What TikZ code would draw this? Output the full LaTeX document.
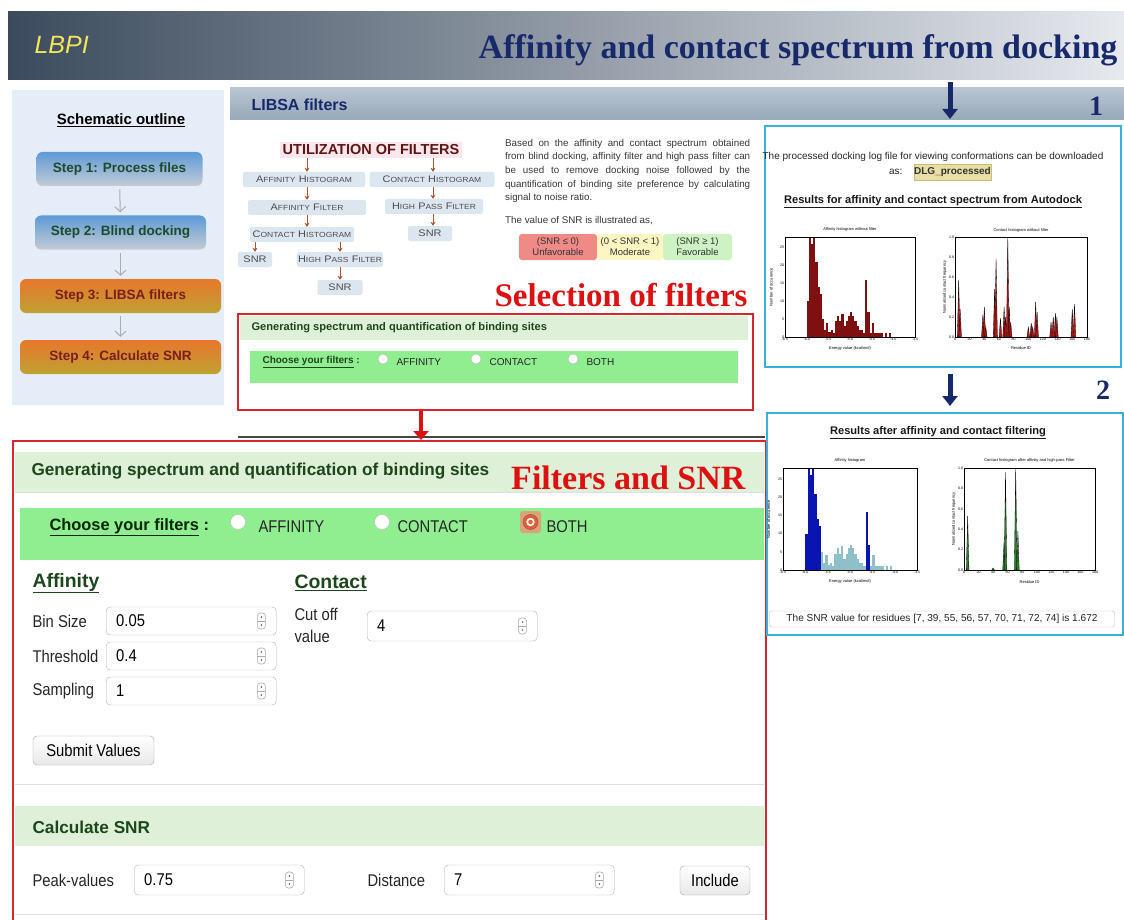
\documentclass[tikz,border=0pt]{standalone}
\usepackage{fontspec}
\setmainfont{Liberation Serif}
\setsansfont{Liberation Sans}
\newfontfamily\narrowsf[FakeStretch=0.87]{Liberation Sans}
\newfontfamily\widesf[FakeStretch=1.15]{Liberation Sans}
\usetikzlibrary{arrows.meta,positioning}

\definecolor{bannerDark}{HTML}{3B4B5D}
\definecolor{bannerLight}{HTML}{E6E9EE}
\definecolor{titleNavy}{HTML}{17296B}
\definecolor{logoYellow}{HTML}{F3E45A}
\definecolor{sideBg}{HTML}{E5EDF9}
\definecolor{stepBlueTop}{HTML}{5E9AD6}
\definecolor{stepBlueBot}{HTML}{C3CCD4}
\definecolor{stepOrangeTop}{HTML}{E7772C}
\definecolor{stepOrangeBot}{HTML}{BFA232}
\definecolor{stepGreenText}{HTML}{1D4A2C}
\definecolor{stepRedText}{HTML}{7A1E1E}
\definecolor{barTop}{HTML}{B8C5D2}
\definecolor{barBot}{HTML}{97A8B9}
\definecolor{flowBlue}{HTML}{DCE6F1}
\definecolor{flowBrown}{HTML}{B5512C}
\definecolor{flowPink}{HTML}{FCE6EE}
\definecolor{flowTitle}{HTML}{5C1712}
\definecolor{snrRed}{HTML}{F08A86}
\definecolor{snrYellow}{HTML}{FDF6C3}
\definecolor{snrGreen}{HTML}{CDF3C4}
\definecolor{alertRed}{HTML}{DD1111}
\definecolor{frameRed}{HTML}{D9262B}
\definecolor{paleGreen}{HTML}{DEF0D7}
\definecolor{webGreen}{HTML}{90EE90}
\definecolor{formGreen}{HTML}{1D461D}
\definecolor{panelCyan}{HTML}{35B1DA}
\definecolor{dlgFill}{HTML}{E9DEA6}
\definecolor{dlgLine}{HTML}{CBBB74}
\definecolor{histRed}{HTML}{7E1010}
\definecolor{histBlue}{HTML}{0A14B0}
\definecolor{histPale}{HTML}{8FBFC8}
\definecolor{peakRed}{HTML}{B01818}
\definecolor{peakGreen}{HTML}{2E7D2E}
\definecolor{radioOrange}{HTML}{E0603C}
\definecolor{radioGlow}{HTML}{D9A47A}

% fake small caps for the filter chart
\newcommand{\fsc}[2]{{\fontsize{9.5}{10}\selectfont #1}{\fontsize{7.4}{8}\selectfont #2}}

% bin counts of the affinity histogram, 0.05 bins from -6.0
\def\affdata{10,30,26,30,21,14,12,5,2,4,1.5,2,1,4.5,6,4.5,6.5,3,4.5,6,7,6,4.5,3,2,2,1,16,7,1,4,1,1,1,1,0,1,0,1,0}

\tikzset{
  stepbox/.style={rounded corners=6pt, minimum height=34pt, inner sep=0pt,
    font=\sffamily\bfseries\fontsize{13.5}{15}\selectfont},
  bluestep/.style={stepbox, top color=stepBlueTop, bottom color=stepBlueBot, text=stepGreenText},
  orangestep/.style={stepbox, minimum width=201pt, top color=stepOrangeTop, bottom color=stepOrangeBot, text=stepRedText},
  steparrow/.style={draw=gray!65, line width=1pt, -{Straight Barb[length=5pt,width=11pt]}, shorten <=3pt, shorten >=3pt},
  flowbox/.style={fill=flowBlue, rounded corners=2pt, minimum height=15pt, inner sep=1pt, text=black!70, font=\widesf},
  flowarrow/.style={draw=flowBrown, line width=1pt, -{Stealth[length=4pt,width=5pt]}},
  snrbox/.style={rounded corners=3pt, minimum height=26pt, inner sep=1pt, align=center, text=black!80,
    font=\sffamily\fontsize{9.5}{11}\selectfont},
  bigtag/.style={text=alertRed, font=\rmfamily\bfseries\fontsize{33}{36}\selectfont},
  navytag/.style={text=titleNavy, font=\rmfamily\bfseries\fontsize{28}{30}\selectfont},
  bluearrow/.style={draw=titleNavy, line width=5pt, -{Triangle[length=10pt,width=15pt]}},
  redarrow/.style={draw=alertRed, line width=4.5pt, -{Triangle[length=9pt,width=15pt]}},
  panel/.style={draw=panelCyan, line width=2.2pt, anchor=north west, inner sep=0pt},
  formtext/.style={anchor=west, text=black!85, font=\narrowsf\fontsize{17}{20}\selectfont},
  formhead/.style={anchor=west, text=formGreen, font=\sffamily\bfseries\fontsize{17.2}{20}\selectfont},
  smallform/.style={anchor=west, text=black!85, font=\sffamily\fontsize{10}{12}\selectfont},
  radio/.style={circle, draw=gray!55, fill=white, inner sep=0pt, minimum size=#1},
  inputbox/.style={draw=gray!60, fill=white, rounded corners=4pt, minimum width=170pt, minimum height=28pt,
    anchor=west, text width=150pt, align=left, inner xsep=7pt, font=\narrowsf\fontsize{17}{20}\selectfont},
  button/.style={draw=gray!70, rounded corners=4pt, top color=white, bottom color=gray!18, minimum height=29pt,
    font=\narrowsf\fontsize{17}{20}\selectfont},
  spin/.style={draw=gray!65, fill=white, rounded corners=3pt, line width=0.6pt},
  ticklab/.style={font=\sffamily\fontsize{3.6}{4}\selectfont, inner sep=0.8pt},
  plotlab/.style={font=\sffamily\fontsize{4}{5}\selectfont, inner sep=0.5pt},
  panelhead/.style={font=\sffamily\bfseries\fontsize{11.1}{13}\selectfont, text=black!90}
}

\begin{document}
\begin{tikzpicture}[x=1pt, y=-1pt]
\useasboundingbox (0,0) rectangle (1124,920);
\fill[white] (0,0) rectangle (1124,920);

% ---- banner ----
\shade[left color=bannerDark, right color=bannerLight] (8,12) rectangle (1124,80);
\node[anchor=west, text=logoYellow, font=\sffamily\itshape\fontsize{25}{28}\selectfont] (logo) at (31,45) {LBPI};
\node[anchor=east, text=titleNavy, font=\rmfamily\bfseries\fontsize{34}{38}\selectfont] (maintitle) at (1121,50)
  {Affinity and contact spectrum from docking};

% ---- schematic outline ----
\fill[sideBg] (12,90) rectangle (224,405);
\node[font=\sffamily\bfseries\fontsize{15}{17}\selectfont] (outline) at (121,120) {\underline{Schematic outline}};
\node[bluestep, minimum width=166pt] (step1) at (119.5,169) {Step 1: Process files};
\node[bluestep, minimum width=171pt] (step2) at (120.5,232.5) {Step 2: Blind docking};
\node[orangestep] (step3) at (120.5,296) {Step 3: LIBSA filters};
\node[orangestep] (step4) at (120.5,357) {Step 4: Calculate SNR};
\foreach \a/\b in {step1/step2, step2/step3, step3/step4}
  \draw[steparrow] (\a) -- (\b);

% ---- LIBSA filters bar ----
\shade[top color=barTop, bottom color=barBot] (230,88) rectangle (1124,120);
\node[anchor=west, text=titleNavy, font=\sffamily\bfseries\fontsize{16}{18}\selectfont] (libsa) at (248,105) {LIBSA filters};

% ---- utilization of filters ----
\node[fill=flowPink, inner sep=3pt, text=flowTitle, font=\sffamily\bfseries\fontsize{14.5}{16}\selectfont] (util) at (371,150)
  {UTILIZATION OF FILTERS};
\node[flowbox, minimum width=122pt] (afh) at (304,179.5) {\fsc{A}{FFINITY} \fsc{H}{ISTOGRAM}};
\node[flowbox, minimum width=125pt] (cth) at (432,179.5) {\fsc{C}{ONTACT} \fsc{H}{ISTOGRAM}};
\node[flowbox, minimum width=118pt] (aff) at (307,207.5) {\fsc{A}{FFINITY} \fsc{F}{ILTER}};
\node[flowbox, minimum width=98pt] (hpfa) at (434,206.5) {\fsc{H}{IGH} \fsc{P}{ASS} \fsc{F}{ILTER}};
\node[flowbox, minimum width=104pt] (cthb) at (302,234.5) {\fsc{C}{ONTACT} \fsc{H}{ISTOGRAM}};
\node[flowbox, minimum width=44pt] (snra) at (430,233.5) {\fsc{SNR}{}};
\node[flowbox, minimum width=34pt] (snrb) at (255,259.5) {\fsc{SNR}{}};
\node[flowbox, minimum width=85pt] (hpfb) at (340,259.5) {\fsc{H}{IGH} \fsc{P}{ASS} \fsc{F}{ILTER}};
\node[flowbox, minimum width=45pt] (snrc) at (340,287.5) {\fsc{SNR}{}};
\draw[flowarrow] (util.south -| 307,0) -- (afh.north -| 307,0);
\draw[flowarrow] (util.south -| 433,0) -- (cth.north -| 433,0);
\draw[flowarrow] (afh.south -| 307,0) -- (aff.north -| 307,0);
\draw[flowarrow] (aff.south -| 307,0) -- (cthb.north -| 307,0);
\draw[flowarrow] (cth.south -| 433,0) -- (hpfa.north -| 433,0);
\draw[flowarrow] (hpfa.south -| 433,0) -- (snra.north -| 433,0);
\draw[flowarrow] (cthb.south -| snrb) -- (snrb.north);
\draw[flowarrow] (cthb.south -| hpfb) -- (hpfb.north);
\draw[flowarrow] (hpfb) -- (snrc);

% ---- description ----
\node[anchor=north west, text width=245pt, align=justify, inner sep=0pt, text=black!78,
  font=\sffamily\fontsize{9.8}{13.6}\selectfont] (about) at (505,139)
  {Based on the affinity and contact spectrum obtained\linebreak from blind docking, affinity filter and high pass filter can\linebreak be used to remove docking noise followed by the\linebreak quantification of binding site preference by calculating\linebreak signal to noise ratio.};
\node[anchor=west, inner sep=0pt, text=black!78, font=\sffamily\fontsize{9.8}{12}\selectfont] (snrnote) at (505,221)
  {The value of SNR is illustrated as,};
\node[snrbox, fill=snrRed, minimum width=78pt] (snrbad) at (558,247) {(SNR ≤ 0)\\Unfavorable};
\node[snrbox, fill=snrYellow, minimum width=66pt] (snrmid) at (630,247) {(0 < SNR < 1)\\Moderate};
\node[snrbox, fill=snrGreen, minimum width=69pt] (snrgood) at (697.5,247) {(SNR ≥ 1)\\Favorable};

% ---- selection of filters ----
\node[bigtag, anchor=east] (seltag) at (751,295) {Selection of filters};
\node[draw=frameRed, line width=1.8pt, fill=white, anchor=north west, minimum width=515pt, minimum height=96pt] (selbox) at (237,313) {};
\fill[paleGreen] (240,316) rectangle (748,340);
\node[smallform, text=formGreen, font=\sffamily\bfseries\fontsize{11.1}{13}\selectfont] (selhead) at (248,328)
  {Generating spectrum and quantification of binding sites};
\fill[webGreen] (250,351) rectangle (738,383);
\node[smallform, text=formGreen, font=\sffamily\bfseries\fontsize{10}{12}\selectfont] (selchoose) at (259,362)
  {\underline{Choose your filters} :};
\foreach \xr/\lab in {383/AFFINITY, 476/CONTACT, 573/BOTH} {
  \node[radio=10pt] (sr\lab) at (\xr,359) {};
  \node[smallform] at (\xr+10,362) {\lab};
}
\draw[gray!55!black, line width=1.2pt] (238,437) -- (765,437);

% ---- filters and SNR form ----
\node[draw=frameRed, line width=2pt, anchor=north west, minimum width=753pt, minimum height=500pt] (formbox) at (12,440) {};
\draw[redarrow] (selbox.south -| 421,0) -- (formbox.north -| 421,0);
\fill[paleGreen] (15,452) rectangle (764,492);
\draw[gray!25] (15,492) -- (764,492);
\node[formhead] (formtitle) at (28,471) {Generating spectrum and quantification of binding sites};
\node[bigtag, anchor=east, font=\rmfamily\bfseries\fontsize{34}{36}\selectfont] (formtag) at (749,478) {Filters and SNR};
\fill[webGreen] (20,508) rectangle (764,560);
\node[formhead, text=black!85!green, font=\sffamily\bfseries\fontsize{16.4}{20}\selectfont] (choose) at (46,527)
  {\underline{Choose your filters} :};
\node[radio=15pt] (rAff) at (238,522) {};
\node[radio=15pt] (rCon) at (382,522) {};
\fill[radioGlow, rounded corners=3pt] (520,511) rectangle (541,533);
\node[radio=15pt, fill=radioOrange, draw=radioOrange!70!black] (rBoth) at (530.5,522) {};
\fill[white] (rBoth) circle (4.2pt);
\fill[radioOrange] (rBoth) circle (2.3pt);
\node[formtext] at (255,527) {AFFINITY};
\node[formtext] at (394,527) {CONTACT};
\node[formtext] at (543,527) {BOTH};

\node[formhead, font=\sffamily\bfseries\fontsize{19.4}{22}\selectfont] (affhead) at (29,583) {\underline{Affinity}};
\node[formhead, font=\sffamily\bfseries\fontsize{19.4}{22}\selectfont] (conhead) at (291,583) {\underline{Contact}};
\node[formtext] at (29,621) {Bin Size};
\node[formtext] at (29,656) {Threshold};
\node[formtext] at (29,691) {Sampling};
\node[formtext, align=left, font=\narrowsf\fontsize{17}{22}\selectfont] at (291,625) {Cut off\\value};
\node[inputbox] (bin) at (106,621) {0.05};
\node[inputbox] (thr) at (106,656) {0.4};
\node[inputbox] (smp) at (106,691) {1};
\node[inputbox, minimum height=30pt] (cut) at (367,626) {4};
\node[button, minimum width=121pt] (submit) at (93.5,750.5) {Submit Values};
\draw[gray!25, line width=1pt] (15,784) -- (764,784);

\fill[paleGreen] (15,806) rectangle (764,846);
\node[formhead, font=\sffamily\bfseries\fontsize{17.2}{20}\selectfont] (snrhead) at (29,827) {Calculate SNR};
\node[formtext] at (29,880) {Peak-values};
\node[formtext] at (364,880) {Distance};
\node[inputbox, minimum height=30pt] (peak) at (134,880) {0.75};
\node[inputbox, minimum height=30pt] (dist) at (444,880) {7};
\node[button, minimum width=70pt] (include) at (715,880.5) {Include};
\draw[gray!25, line width=1pt] (15,914) -- (764,914);

% spinners of the number fields
\foreach \b in {bin, thr, smp, cut, peak, dist} {
  \draw[spin] ([xshift=-19pt, yshift=8pt]\b.east) rectangle ++(8,16);
  \draw[gray!65, line width=0.5pt] ([xshift=-19pt]\b.east) -- ++(8,0);
  \fill[black!60] ([xshift=-15pt, yshift=4pt]\b.east) circle (0.9pt);
  \fill[black!60] ([xshift=-15pt, yshift=-4pt]\b.east) circle (0.9pt);
}

% ---- results after docking ----
\node[panel, minimum width=356pt, minimum height=241pt] (panela) at (764,125) {};
\coordinate (arrowa) at (950,82);
\draw[bluearrow, shorten >=6pt] (arrowa) -- (arrowa |- panela.north);
\node[navytag] (numa) at (1096,106) {1};
\node[font=\sffamily\fontsize{10}{12}\selectfont, text=black!85] (dlgnote) at (933,157)
  {The processed docking log file for viewing conformations can be downloaded};
\node[anchor=east, font=\sffamily\fontsize{10}{12}\selectfont, text=black!85] (dlgas) at (906,172) {as:};
\node[fill=dlgFill, draw=dlgLine, minimum width=71pt, minimum height=16pt, inner sep=0pt,
  font=\sffamily\bfseries\fontsize{10}{12}\selectfont, text=black!80] (dlg) at (952.5,172) {DLG\_processed};
\node[panelhead] (resa) at (933,202) {\underline{Results for affinity and contact spectrum from Autodock}};

% affinity histogram, raw
\begin{scope}[shift={(785,337)}, x=43.33pt, y=3.57pt]
  \begin{scope}
    \clip (0,0) rectangle (3,28);
    \foreach \h [count=\i] in \affdata
      \fill[histRed] ({0.45+0.05*\i},0) rectangle ++(0.05,\h);
  \end{scope}
  \draw[line width=0.4pt] (0,0) rectangle (3,28);
  \foreach \t/\lab in {0/-6.5, 0.5/-6.0, 1/-5.5, 1.5/-5.0, 2/-4.5, 2.5/-4.0, 3/-3.5}
    \node[ticklab, below] at (\t,0) {\lab};
  \foreach \t in {0,5,...,25}
    \node[ticklab, left] at (0,\t) {\t};
  \node[plotlab] at (1.5,30) {Affinity histogram without filter};
  \node[plotlab] at (1.5,-3.2) {Energy value (kcal/mol)};
  \node[plotlab, rotate=90] at (-0.32,14) {Number of occurence};
\end{scope}

% contact histogram, raw
\begin{scope}[shift={(955,337)}, x=0.733pt, y=100pt]
  \foreach \r/\h in {5/0.57, 7/0.28, 38/0.22, 40/0.3, 42/0.1, 54/0.48, 56/0.78, 62/0.19, 67/0.3, 69/0.2,
      72/1.0, 74/0.3, 76/0.15, 100/0.1, 104/0.14, 106/0.1, 110/0.35, 112/0.25, 131/0.15, 134/0.2, 137/0.24,
      139/0.2, 160/0.28, 163/0.33}
    \filldraw[fill=peakRed, draw=black, line width=0.3pt] (\r-1.8,0) -- (\r,\h) -- (\r+1.8,0) -- cycle;
  \draw[line width=0.4pt] (0,0) rectangle (180,1);
  \foreach \t in {0,20,...,180}
    \node[ticklab, below] at (\t,0) {\t};
  \foreach \t in {0.0,0.2,0.4,0.6,0.8,1.0}
    \node[ticklab, left] at (0,\t) {\t};
  \node[plotlab] at (90,1.07) {Contact histogram without filter};
  \node[plotlab] at (90,-0.115) {Residue ID};
  \node[plotlab, rotate=90] at (-14,0.5) {Normalized contact frequency};
\end{scope}

% ---- results after filtering ----
\coordinate (arrowb) at (950,374);
\node[panel, minimum width=356pt, minimum height=222pt] (panelb) at (766,412) {};
\draw[bluearrow, shorten >=6pt] (arrowb) -- (arrowb |- panelb.north);
\node[navytag] (numb) at (1103,390) {2};
\node[panelhead] (resb) at (938,433) {\underline{Results after affinity and contact filtering}};

% affinity histogram, filtered
\begin{scope}[shift={(783,570)}, x=44.67pt, y=3.64pt]
  \begin{scope}
    \clip (0,0) rectangle (3,28);
    \foreach \h [count=\i] in \affdata {
      \ifnum\i<8 \def\hc{histBlue}\else\ifnum\i=28 \def\hc{histBlue}\else\ifnum\i=29 \def\hc{histBlue}\else\def\hc{histPale}\fi\fi\fi
      \fill[\hc] ({0.45+0.05*\i},0) rectangle ++(0.05,\h);
    }
  \end{scope}
  \draw[line width=0.4pt] (0,0) rectangle (3,28);
  \foreach \t/\lab in {0/-6.5, 0.5/-6.0, 1/-5.5, 1.5/-5.0, 2/-4.5, 2.5/-4.0, 3/-3.5}
    \node[ticklab, below] at (\t,0) {\lab};
  \foreach \t in {0,5,...,25}
    \node[ticklab, left] at (0,\t) {\t};
  \node[plotlab] at (1.5,30) {Affinity histogram};
  \node[plotlab] at (1.5,-3.2) {Energy value (kcal/mol)};
  \node[plotlab, rotate=90] at (-0.32,14) {Number of occurence};
\end{scope}

% contact histogram, filtered
\begin{scope}[shift={(964,570)}, x=0.728pt, y=102pt]
  \foreach \r/\h in {5/0.53, 40/0.02, 55/0.28, 57/0.96, 71/1.0, 74/0.38}
    \filldraw[fill=peakGreen, draw=black, line width=0.3pt] (\r-1.8,0) -- (\r,\h) -- (\r+1.8,0) -- cycle;
  \draw[line width=0.4pt] (0,0) rectangle (180,1);
  \foreach \t in {0,20,...,180}
    \node[ticklab, below] at (\t,0) {\t};
  \foreach \t in {0.0,0.2,0.4,0.6,0.8,1.0}
    \node[ticklab, left] at (0,\t) {\t};
  \node[plotlab] at (90,1.07) {Contact histogram after affinity and high-pass Filter};
  \node[plotlab] at (90,-0.115) {Residue ID};
  \node[plotlab, rotate=90] at (-14,0.5) {Normalized contact frequency};
\end{scope}

\node[draw=gray!55, rounded corners=2pt, minimum width=345pt, minimum height=16pt, inner sep=0pt,
  font=\sffamily\fontsize{10.1}{12}\selectfont, text=black!85] (snrresult) at (942,619)
  {The SNR value for residues [7, 39, 55, 56, 57, 70, 71, 72, 74] is 1.672};
\end{tikzpicture}
\end{document}
